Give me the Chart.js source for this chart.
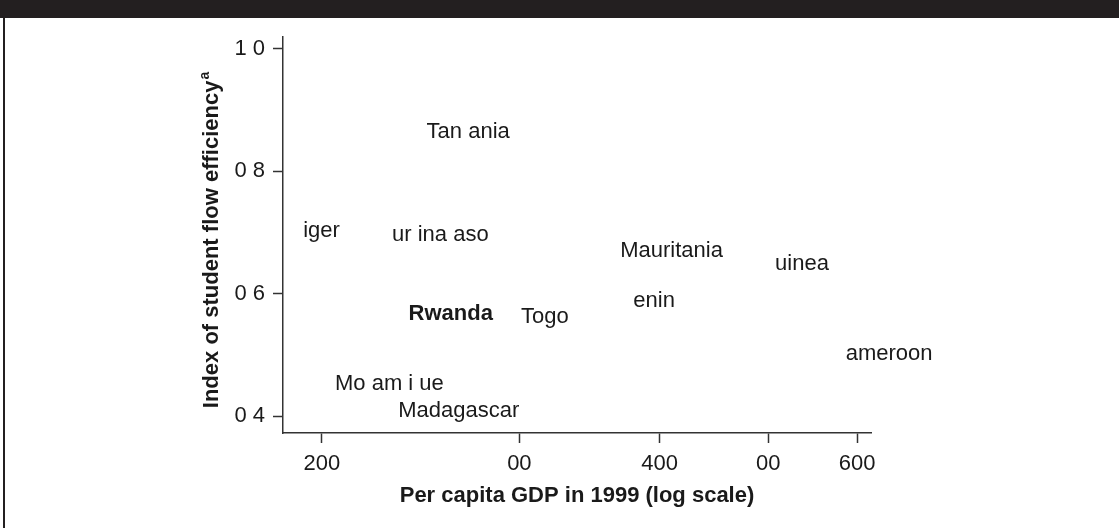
<!DOCTYPE html>
<html>
<head>
<meta charset="utf-8">
<script src="https://cdn.jsdelivr.net/npm/chart.js@4.4.0/dist/chart.umd.min.js"></script>
<style>
  html, body { margin: 0; padding: 0; background: #fff; }
  canvas { display: block; }
</style>
</head>
<body>
<canvas id="chart" width="1119" height="528"></canvas>
<script>
// Country labels, per capita GDP (log axis) and student flow efficiency index
const countries = ['Tan ania', 'iger', 'ur ina aso', 'Mauritania', 'uinea', 'enin', 'Rwanda', 'Togo', 'ameroon', 'Mo am i ue', 'Madagascar'];
const gdpPerCapita = [248, 192.5, 231, 369, 507, 379, 239, 301, 586, 205.5, 234];
const flowEfficiency = [0.864, 0.702, 0.696, 0.670, 0.648, 0.588, 0.567, 0.562, 0.501, 0.452, 0.408];
const highlighted = ['Rwanda'];

// Axis ticks and titles
const xTickValues = [200, 300, 400, 500, 600];
const xTickLabels = ['200', '00', '400', '00', '600'];
const yTickValues = [0.4, 0.6, 0.8, 1.0];
const yTickLabels = ['0 4', '0 6', '0 8', '1 0'];
const xTitle = 'Per capita GDP in 1999 (log scale)';
const yTitle = 'Index of student flow efficiency';
const yTitleNote = 'a';

const FONT = '"Liberation Sans", Arial, Helvetica, sans-serif';
const INK = '#1a1a1a';
const FRAME = '#231f20';

// Dark band across the top and a rule down the left side
const framePlugin = {
  id: 'frame',
  beforeDraw(chart) {
    const { ctx, width, height } = chart;
    ctx.save();
    ctx.fillStyle = '#ffffff';
    ctx.fillRect(0, 0, width, height);
    ctx.fillStyle = FRAME;
    ctx.fillRect(0, 0, width, 18);
    ctx.fillRect(3, 18, 2, height - 18);
    ctx.restore();
  }
};

// Country names written at their data positions
const labelPlugin = {
  id: 'countryLabels',
  afterDatasetsDraw(chart) {
    const { ctx } = chart;
    const meta = chart.getDatasetMeta(0);
    ctx.save();
    ctx.fillStyle = INK;
    ctx.textAlign = 'left';
    ctx.textBaseline = 'middle';
    meta.data.forEach((pt, i) => {
      const name = countries[i];
      const weight = highlighted.includes(name) ? 'bold ' : '';
      ctx.font = weight + '22px ' + FONT;
      ctx.fillText(name, pt.x, pt.y);
    });
    ctx.restore();
  }
};

// Rotated y-axis title with a superscript note marker
const yTitlePlugin = {
  id: 'yTitle',
  afterDraw(chart) {
    const { ctx, chartArea } = chart;
    ctx.save();
    ctx.fillStyle = INK;
    ctx.font = 'bold 22px ' + FONT;
    const mainW = ctx.measureText(yTitle).width;
    ctx.font = 'bold 14px ' + FONT;
    const noteW = ctx.measureText(yTitleNote).width;
    const total = mainW + noteW + 1;
    const cy = (chartArea.top + chartArea.bottom) / 2 + 5;
    ctx.translate(212, cy);
    ctx.rotate(-Math.PI / 2);
    ctx.textAlign = 'left';
    ctx.textBaseline = 'middle';
    ctx.font = 'bold 22px ' + FONT;
    ctx.fillText(yTitle, -total / 2, 0);
    ctx.font = 'bold 14px ' + FONT;
    ctx.fillText(yTitleNote, -total / 2 + mainW + 1, -7);
    ctx.restore();
  }
};

const points = gdpPerCapita.map((x, i) => ({ x, y: flowEfficiency[i] }));

new Chart(document.getElementById('chart'), {
  type: 'scatter',
  data: {
    datasets: [{
      data: points,
      pointRadius: 0,
      pointHoverRadius: 0,
      showLine: false
    }]
  },
  plugins: [framePlugin, labelPlugin, yTitlePlugin],
  options: {
    responsive: false,
    animation: false,
    devicePixelRatio: 1,
    layout: { padding: { left: 20, top: 37, right: 248, bottom: 0 } },
    plugins: {
      legend: { display: false },
      tooltip: { enabled: false }
    },
    scales: {
      x: {
        type: 'logarithmic',
        min: 184.7,
        max: 617.3,
        afterBuildTicks(scale) {
          scale.ticks = xTickValues.map(v => ({ value: v }));
        },
        afterFit(scale) { scale.height = 95; },
        ticks: {
          autoSkip: false,
          maxRotation: 0,
          padding: 8,
          color: INK,
          font: { family: FONT, size: 22 },
          callback: (value, index) => xTickLabels[index]
        },
        grid: {
          drawOnChartArea: false,
          drawTicks: true,
          tickLength: 10,
          tickWidth: 1.5,
          color: '#333'
        },
        border: { display: true, color: '#333', width: 1.5 },
        title: {
          display: true,
          text: xTitle,
          color: INK,
          font: { family: FONT, size: 22, weight: 'bold' },
          padding: { top: 0, bottom: 19 }
        }
      },
      y: {
        type: 'linear',
        min: 0.3727,
        max: 1.019,
        afterBuildTicks(scale) {
          scale.ticks = yTickValues.map(v => ({ value: v }));
        },
        afterFit(scale) { scale.width = 263; },
        ticks: {
          autoSkip: false,
          padding: 8,
          color: INK,
          font: { family: FONT, size: 22 },
          callback: (value, index) => yTickLabels[index]
        },
        grid: {
          drawOnChartArea: false,
          drawTicks: true,
          tickLength: 10,
          tickWidth: 1.5,
          color: '#333'
        },
        border: { display: true, color: '#333', width: 1.5 }
      }
    }
  }
});
</script>
</body>
</html>
